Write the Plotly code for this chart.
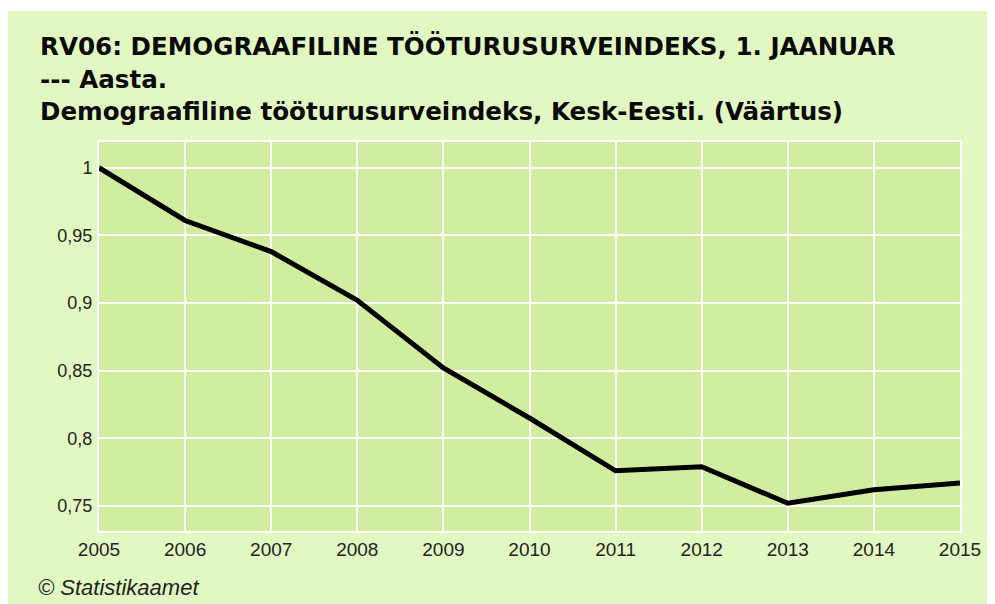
import plotly.graph_objects as go

years = [2005, 2006, 2007, 2008, 2009, 2010, 2011, 2012, 2013, 2014, 2015]
values = [1.0, 0.961, 0.938, 0.902, 0.852, 0.815, 0.776, 0.779, 0.752, 0.762, 0.767]
y_ticks = [0.75, 0.8, 0.85, 0.9, 0.95, 1.0]

title_lines = [
    "RV06: DEMOGRAAFILINE TÖÖTURUSURVEINDEKS, 1. JAANUAR",
    "--- Aasta.",
    "Demograafiline tööturusurveindeks, Kesk-Eesti. (Väärtus)",
]
source = "© Statistikaamet"

# page is rendered with an 8px body margin; figure coords = page coords - 8
OFF = 8
W, H = 995 - OFF, 604 - OFF
L, R, T, B = 99 - OFF, 960 - OFF, 142 - OFF, 531 - OFF
pw, ph = R - L, B - T

def px(x):
    return (x - OFF - L) / pw

def py(y):
    return (B - (y - OFF)) / ph

fig = go.Figure()
fig.add_trace(go.Scatter(
    x=years, y=values, mode="lines",
    line=dict(color="#000000", width=5),
    hoverinfo="skip",
))

outer_green = "#e2f8c3"
plot_green = "#d1eea0"

shapes = [
    dict(type="rect", xref="paper", yref="paper", x0=px(0), x1=px(1000), y0=py(11), y1=py(0),
         fillcolor="#ffffff", line=dict(width=0), layer="below"),
]

annotations = []
for txt, base in zip(title_lines, [58, 91, 123]):
    annotations.append(dict(
        text="<b>" + txt + "</b>", xref="paper", yref="paper",
        x=px(38), y=py(base + 5), xanchor="left", yanchor="bottom",
        showarrow=False, font=dict(family="DejaVu Sans", size=24.6, color="#0a0a0a"),
    ))
annotations.append(dict(
    text="<i>" + source + "</i>", xref="paper", yref="paper",
    x=px(36), y=py(587), xanchor="left", yanchor="middle",
    showarrow=False, font=dict(family="Liberation Sans, Arial", size=22, color="#222222"),
))

fig.update_layout(
    width=W, height=H,
    margin=dict(l=L, r=W - R, t=T, b=H - B, pad=0),
    paper_bgcolor=outer_green,
    plot_bgcolor=plot_green,
    separators=", ",
    showlegend=False,
    shapes=shapes,
    annotations=annotations,
    font=dict(family="Liberation Sans, Arial", size=18, color="#222222"),
    xaxis=dict(
        range=[2005, 2015], tickmode="array", tickvals=years,
        ticktext=[str(y) for y in years],
        showgrid=True, gridcolor="#ffffff", gridwidth=2,
        showline=True, linecolor="#ffffff", linewidth=2, mirror=True,
        zeroline=False, ticks="outside", ticklen=0, tickcolor="rgba(0,0,0,0)",
        tickfont=dict(size=19, color="#222222"),
    ),
    yaxis=dict(
        range=[0.7315, 1.019], tickmode="array", tickvals=y_ticks,
        showgrid=True, gridcolor="#ffffff", gridwidth=2,
        showline=True, linecolor="#ffffff", linewidth=2, mirror=True,
        zeroline=False, ticks="outside", ticklen=1, tickcolor="rgba(0,0,0,0)",
        tickfont=dict(size=18, color="#222222"),
    ),
)

fig.write_html("out.html")
